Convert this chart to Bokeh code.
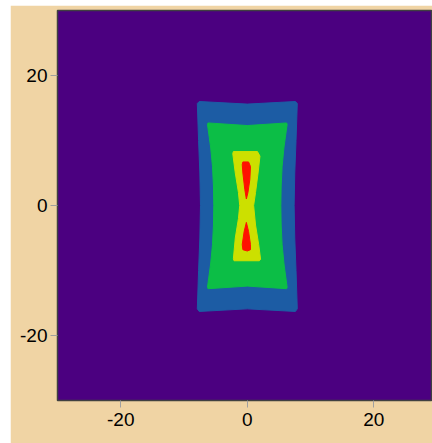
from bokeh.plotting import figure
from bokeh.models import FixedTicker, Range1d
from bokeh.embed import file_html
from bokeh.resources import INLINE

# Contour band outlines (data coordinates), outermost to innermost
level_colors = ["#1C5CA4", "#0CBE46", "#CCE000", "#FF1000", "#FF1000"]

blue_x = [-7.6, 0.0, 7.6, 7.9, 7.7, 7.5, 7.4, 7.5, 7.7, 7.9, 7.6, 0.0, -7.6, -7.9, -7.7, -7.5, -7.4, -7.5, -7.7, -7.9]
blue_y = [16.0, 15.6, 16.0, 15.7, 10.0, 5.0, 0.0, -5.0, -10.0, -15.9, -16.3, -15.9, -16.3, -15.9, -10.0, -5.0, 0.0, 5.0, 10.0, 15.7]

green_x = [-6.2, 0.0, 6.2, 6.3, 5.8, 5.5, 5.35, 5.3, 5.35, 5.5, 5.8, 6.3, 6.2, 0.0, -6.2, -6.3, -5.8, -5.5, -5.35, -5.3, -5.35, -5.5, -5.8, -6.3]
green_y = [12.7, 12.3, 12.7, 12.5, 9.0, 6.0, 3.0, 0.0, -3.0, -6.0, -9.0, -12.6, -12.8, -12.4, -12.8, -12.6, -9.0, -6.0, -3.0, 0.0, 3.0, 6.0, 9.0, 12.5]

yellow_x = [-2.2, 1.6, 2.0, 1.7, 1.3, 1.0, 1.3, 1.8, 2.1, 1.9, -2.1, -2.2, -1.9, -1.4, -1.2, -1.4, -1.9, -2.3]
yellow_y = [8.3, 8.3, 7.6, 5.0, 2.0, 0.0, -3.0, -6.0, -8.3, -8.5, -8.5, -8.2, -5.0, -2.0, 0.0, 2.0, 5.0, 8.0]

red_up_x = [-0.7, 0.2, 0.5, 0.4, 0.1, -0.15, -0.4, -0.7, -0.8]
red_up_y = [6.7, 6.7, 6.0, 4.0, 2.0, 1.0, 2.5, 5.0, 6.3]

red_lo_x = [-0.15, 0.2, 0.5, 0.5, 0.0, -0.7, -0.8, -0.5]
red_lo_y = [-2.6, -4.0, -6.0, -6.8, -7.0, -6.8, -6.0, -4.0]

x_ticks = [-20, 0, 20]
y_ticks = [-20, 0, 20]
tick_labels = ["-20", "0", "20"]

p = figure(width=422, height=438, output_backend="svg", toolbar_location=None,
           x_range=Range1d(-30, 29.27), y_range=Range1d(-30, 30),
           min_border_left=47, min_border_top=5, min_border_right=0, min_border_bottom=43,
           margin=(5, 0, 0, 10))

p.background_fill_color = "#4B0080"
p.border_fill_color = "#F0D4A4"
p.outline_line_color = "#404040"
p.outline_line_width = 1.5
p.grid.visible = False

p.patches(xs=[blue_x, green_x, yellow_x, red_up_x, red_lo_x],
          ys=[blue_y, green_y, yellow_y, red_up_y, red_lo_y],
          fill_color=level_colors, line_color=level_colors, line_width=1)

for ax, ticks in ((p.xaxis, x_ticks), (p.yaxis, y_ticks)):
    ax.ticker = FixedTicker(ticks=ticks)
    ax.major_label_overrides = {t: lab for t, lab in zip(ticks, tick_labels)}
    ax.axis_line_color = None
    ax.major_tick_line_color = "#a0a0a0"
    ax.major_tick_out = 7
    ax.major_tick_in = 0
    ax.minor_tick_line_color = None
    ax.major_label_text_font = "Liberation Sans"
    ax.major_label_text_font_size = "19px"
    ax.major_label_text_color = "#000000"

p.xaxis.major_label_standoff = 5
p.yaxis.major_label_standoff = 3

open("out.html", "w").write(file_html(p, INLINE))
